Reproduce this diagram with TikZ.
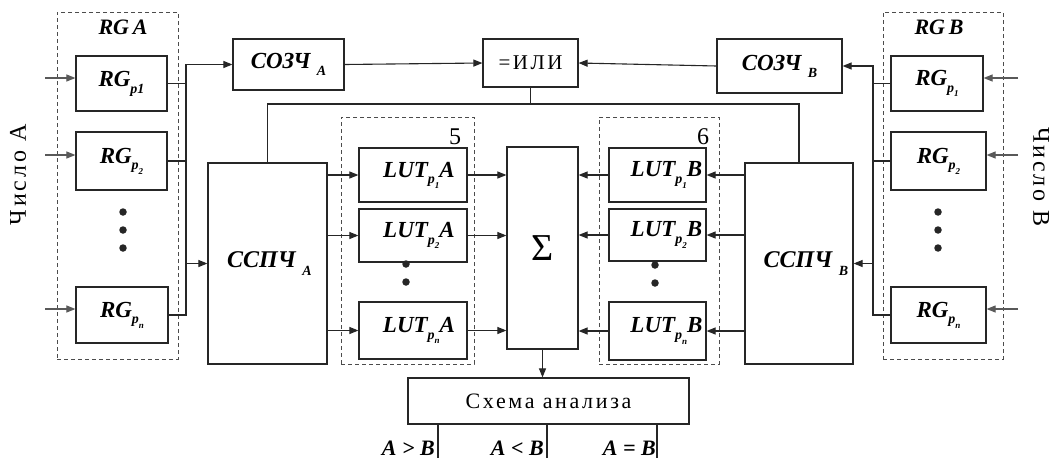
\documentclass[tikz,border=0pt]{standalone}
\usepackage{fontspec}
\setmainfont{Liberation Serif}
\newfontfamily\spfont[LetterSpace=12]{Liberation Serif}
\usetikzlibrary{arrows.meta}
\newcommand\bsub[1]{\raisebox{-0.3em}{\fontsize{14}{14}\selectfont #1}}
\newcommand\bsubsub[1]{\raisebox{-0.3em}{\fontsize{9}{9}\selectfont #1}}
\begin{document}
\begin{tikzpicture}[x=1pt,y=-1pt,
  box/.style={draw=black!85,line width=1.2pt,inner sep=0pt,font=\fontsize{23}{25}\selectfont\bfseries\itshape},
  dbox/.style={draw=black!70,line width=1pt,dash pattern=on 4pt off 3pt,inner sep=0pt},
  ln/.style={draw=black!85,line width=1.1pt},
  arr/.style={ln,-{Triangle[length=9pt,width=7pt]}},
  inarr/.style={arr,draw=black!65},
  dot/.style={circle,fill=black!85,inner sep=0pt,minimum size=7.5pt},
  bi/.style={inner sep=0pt,font=\fontsize{22}{24}\selectfont\bfseries\itshape},
  rus/.style={inner sep=0pt,font=\fontsize{24}{26}\selectfont\spfont},
]
\useasboundingbox[fill=white] (0,0) rectangle (1051,458);

% ---------- left register group
\node[dbox,minimum width=121pt,minimum height=347pt] (dA) at (117.5,185.5) {};
\node[bi] (tA) at (123,27) {RG\,A};
\node[box,minimum width=91pt,minimum height=55pt] (rga1) at (121.5,83.5) {RG\bsub{p1}};
\node[box,minimum width=91pt,minimum height=58pt] (rga2) at (121.5,161) {RG\bsub{p\bsubsub{2}}};
\node[box,minimum width=92pt,minimum height=56pt] (rgan) at (122,315) {RG\bsub{p\bsubsub{n}}};
\node[dot] (da1) at (123,212) {};
\node[dot] (da2) at (123,230) {};
\node[dot] (da3) at (123,248) {};
\coordinate (ia1) at (45,78);
\coordinate (ia2) at (45,155);
\coordinate (ia3) at (45,309);
\draw[inarr] (ia1) -- (ia1 -| rga1.west);
\draw[inarr] (ia2) -- (ia2 -| rga2.west);
\draw[inarr] (ia3) -- (ia3 -| rgan.west);
\node[rus,rotate=90] (chA) at (18,175) {Число А};

% ---------- right register group
\node[dbox,minimum width=120pt,minimum height=347pt] (dB) at (943,185.5) {};
\node[bi] (tB) at (939,27) {RG\,B};
\node[box,minimum width=92pt,minimum height=55pt] (rgb1) at (937,83.5) {RG\bsub{p\bsubsub{1}}};
\node[box,minimum width=95pt,minimum height=58pt] (rgb2) at (938.5,161) {RG\bsub{p\bsubsub{2}}};
\node[box,minimum width=95pt,minimum height=56pt] (rgbn) at (938.5,315) {RG\bsub{p\bsubsub{n}}};
\node[dot] (db1) at (938,212) {};
\node[dot] (db2) at (938,230) {};
\node[dot] (db3) at (938,248) {};
\coordinate (ib1) at (1018,78);
\coordinate (ib2) at (1018,155);
\coordinate (ib3) at (1018,309);
\draw[inarr] (ib1) -- (ib1 -| rgb1.east);
\draw[inarr] (ib2) -- (ib2 -| rgb2.east);
\draw[inarr] (ib3) -- (ib3 -| rgbn.east);
\node[rus,rotate=-90] (chB) at (1041,177) {Число В};

% ---------- top row
\node[box,minimum width=111pt,minimum height=51pt] (soA) at (288.5,64.5) {СОЗЧ\;\bsub{A}};
\node[box,minimum width=95pt,minimum height=48pt,font=\fontsize{21}{23}\selectfont\spfont] (ili) at (530.5,63) {=ИЛИ};
\node[box,minimum width=125pt,minimum height=54pt] (soB) at (779.5,66) {СОЗЧ\;\bsub{B}};

% ---------- ССПЧ blocks
\node[box,minimum width=119pt,minimum height=201pt,font=\fontsize{24}{26}\selectfont\bfseries\itshape] (ssA) at (267.5,263.5) {\hspace*{4pt}\raisebox{-5pt}{ССПЧ\;\bsub{A}}};
\node[box,minimum width=108pt,minimum height=201pt,font=\fontsize{24}{26}\selectfont\bfseries\itshape] (ssB) at (799,263.5) {\hspace*{14pt}\raisebox{-5pt}{ССПЧ\;\bsub{B}}};

% ---------- LUT A group
\node[dbox,minimum width=133pt,minimum height=247pt] (d5) at (407.5,240.5) {};
\node[inner sep=0pt,font=\fontsize{24}{24}\selectfont] (n5) at (455,137) {5};
\node[box,minimum width=108pt,minimum height=54pt] (lutA1) at (413,175) {\hspace*{12pt}LUT\bsub{p\bsubsub{1}}A};
\node[box,minimum width=108pt,minimum height=53pt] (lutA2) at (413,235.5) {\hspace*{12pt}LUT\bsub{p\bsubsub{2}}A};
\node[box,minimum width=108pt,minimum height=57pt] (lutAn) at (413,330.5) {\hspace*{12pt}LUT\bsub{p\bsubsub{n}}A};
\node[dot] (dla1) at (406,264) {};
\node[dot] (dla2) at (406,282) {};

% ---------- LUT B group
\node[dbox,minimum width=120pt,minimum height=247pt] (d6) at (659,240.5) {};
\node[inner sep=0pt,font=\fontsize{24}{24}\selectfont] (n6) at (703,137) {6};
\node[box,minimum width=97pt,minimum height=54pt] (lutB1) at (657.5,175) {\hspace*{18pt}LUT\bsub{p\bsubsub{1}}B};
\node[box,minimum width=97pt,minimum height=52pt] (lutB2) at (657.5,235) {\hspace*{18pt}LUT\bsub{p\bsubsub{2}}B};
\node[box,minimum width=97pt,minimum height=58pt] (lutBn) at (657.5,331) {\hspace*{18pt}LUT\bsub{p\bsubsub{n}}B};
\node[dot] (dlb1) at (655,265) {};
\node[dot] (dlb2) at (655,283) {};

% ---------- sum and analysis
\node[box,minimum width=71pt,minimum height=202pt,font=\fontsize{38}{38}\selectfont] (sig) at (542.5,248) {\raisebox{-6pt}{Σ}};
\node[box,minimum width=281pt,minimum height=46pt,font=\fontsize{22}{24}\selectfont\spfont] (an) at (548.5,401) {Схема анализа};

% ---------- bus A
\coordinate (bA) at (186,64.5);
\draw[arr] (rgan.east) -| (bA) -- (soA.west);
\draw[ln] (rga1.east) -- (rga1.east -| bA);
\draw[ln] (rga2.east) -- (rga2.east -| bA);
\draw[arr] (ssA.west -| bA) -- (ssA.west);

% ---------- bus B
\coordinate (bB) at (873,66);
\draw[arr] (rgbn.west) -| (bB) -- (soB.east);
\draw[ln] (rgb1.west) -- (rgb1.west -| bB);
\draw[ln] (rgb2.west) -- (rgb2.west -| bB);
\draw[arr] (ssB.east -| bB) -- (ssB.east);

% ---------- =ИЛИ
\draw[arr] (soA.east) -- (ili.west);
\draw[arr] (soB.west) -- (ili.east);
\coordinate (fb) at (530.5,104);
\draw[ln] (ili.south) -- (fb);
\draw[ln] (ssA.north) |- (fb) -| (ssB.north);

% ---------- ССПЧ -> LUT
\draw[arr] (ssA.east |- lutA1.west) -- (lutA1.west);
\draw[arr] (ssA.east |- lutA2.west) -- (lutA2.west);
\draw[arr] (ssA.east |- lutAn.west) -- (lutAn.west);
\draw[arr] (ssB.west |- lutB1.east) -- (lutB1.east);
\draw[arr] (ssB.west |- lutB2.east) -- (lutB2.east);
\draw[arr] (ssB.west |- lutBn.east) -- (lutBn.east);

% ---------- LUT -> Σ
\draw[arr] (lutA1.east) -- (lutA1.east -| sig.west);
\draw[arr] (lutA2.east) -- (lutA2.east -| sig.west);
\draw[arr] (lutAn.east) -- (lutAn.east -| sig.west);
\draw[arr] (lutB1.west) -- (lutB1.west -| sig.east);
\draw[arr] (lutB2.west) -- (lutB2.west -| sig.east);
\draw[arr] (lutBn.west) -- (lutBn.west -| sig.east);

% ---------- Σ -> analysis -> outputs
\draw[arr] (sig.south) -- (sig.south |- an.north);
\coordinate (o1) at (438,458);
\coordinate (o2) at (547,458);
\coordinate (o3) at (657,458);
\draw[ln] (o1 |- an.south) -- (o1);
\draw[ln] (o2 |- an.south) -- (o2);
\draw[ln] (o3 |- an.south) -- (o3);
\node[bi,anchor=base east] (l1) at (435,455) {A > B};
\node[bi,anchor=base east] (l2) at (544,455) {A < B};
\node[bi,anchor=base east] (l3) at (656,455) {A = B};
\end{tikzpicture}
\end{document}
